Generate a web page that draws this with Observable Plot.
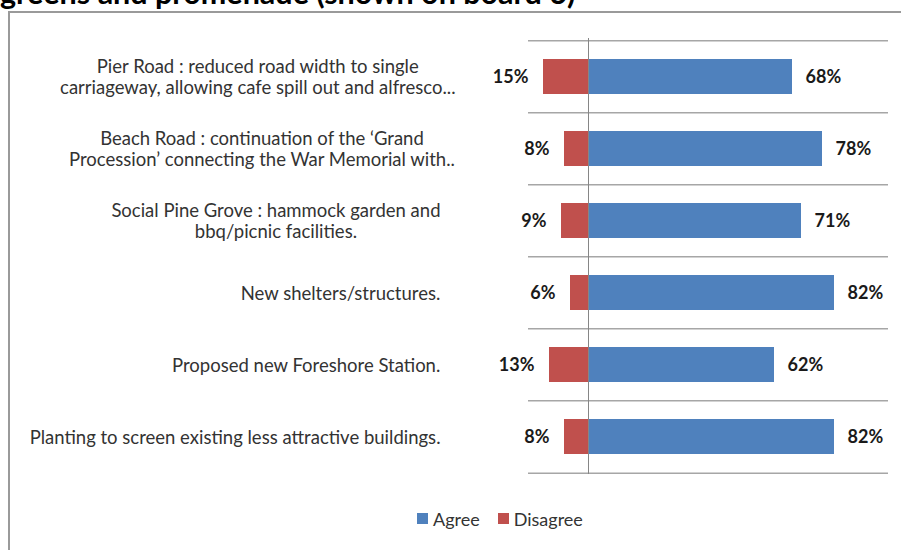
<!DOCTYPE html>
<html><head><meta charset="utf-8">
<script src="https://cdn.jsdelivr.net/npm/d3@7"></script>
<script src="https://cdn.jsdelivr.net/npm/@observablehq/plot@0.6"></script>
<style>
html,body{margin:0;padding:0;background:#fff;}
#wrap{position:relative;width:901px;height:550px;overflow:hidden;background:#fff;font-family:Lato,sans-serif;}
#title{position:absolute;left:0;top:-23px;font:bold 30.5px/30.5px Lato,sans-serif;color:#000;white-space:nowrap;}
#frame{position:absolute;left:8px;top:11px;width:893px;height:539px;border-top:2px solid #9a9a9a;border-left:2px solid #9a9a9a;box-sizing:border-box;background:transparent;}
#chart{position:absolute;left:0;top:0;}
#legend{position:absolute;top:502px;left:417px;}
</style></head><body>
<div id="wrap"><div id="title">greens and promenade (shown on board 6)</div><div id="frame"></div><div id="chart"></div><div id="legend"></div></div>
<script>
const categories = [
  "Pier Road : reduced road width to single\ncarriageway, allowing cafe spill out and alfresco...",
  "Beach Road : continuation of the \u2018Grand\nProcession\u2019 connecting the War Memorial with..",
  "Social Pine Grove : hammock garden and\nbbq/picnic facilities.",
  "New shelters/structures.",
  "Proposed new Foreshore Station.",
  "Planting to screen existing less attractive buildings."
];
const agree = [68, 78, 71, 82, 62, 82];
const disagree = [15, 8, 9, 6, 13, 8];
const seriesNames = ["Agree", "Disagree"];
const seriesColors = ["#4F81BD", "#C0504D"];

const W = 901, H = 500, mt = 38, mb = 26, ml = 528, mr = 13;
const rows = categories.map((c, i) => ({category: c, agree: agree[i], disagree: disagree[i]}));
const step = (H - mt - mb) / categories.length;
const labelFont = 18.5;
const ctx = document.createElement("canvas").getContext("2d");
ctx.font = `${labelFont}px Lato`;
function labelMark(c) {
  const lines = c.split("\n");
  const maxW = Math.max(...lines.map(l => ctx.measureText(l).width));
  const gap = /\.\.$/.test(c) ? 73 : 88;
  const center = -gap - maxW / 2;
  return Plot.text([c], {y: d => d, text: d => d, frameAnchor: "left", dx: center, textAnchor: "middle",
    lineHeight: 1.11, fontSize: labelFont, fill: "#333"});
}
const gridStyle = {stroke: "#a6a6a6", strokeWidth: 1.5};
const valStyle = {fontWeight: "bold", fontSize: 18, fill: "#1a1a1a"};
const chart = Plot.plot({
  width: W, height: H, marginTop: mt, marginBottom: mb, marginLeft: ml, marginRight: mr,
  x: {domain: [-20, 100], axis: null},
  y: {domain: categories, axis: null, paddingInner: 0.52, paddingOuter: 0.26},
  style: {fontFamily: "Lato, sans-serif", background: "transparent", overflow: "visible"},
  marks: [
    Plot.ruleY(categories, {y: d => d, dy: -step / 2, ...gridStyle}),
    Plot.ruleY(categories.slice(-1), {y: d => d, dy: step / 2, ...gridStyle}),
    Plot.barX(rows, {y: "category", x1: 0, x2: "agree", fill: seriesColors[0]}),
    Plot.barX(rows, {y: "category", x1: d => -d.disagree, x2: 0, fill: seriesColors[1]}),
    Plot.ruleX([0], {stroke: "#868686", strokeWidth: 1}),
    Plot.text(rows, {y: "category", x: "agree", text: d => d.agree + "%", dx: 13, textAnchor: "start", ...valStyle}),
    Plot.text(rows, {y: "category", x: d => -d.disagree, text: d => d.disagree + "%", dx: -15, textAnchor: "end", ...valStyle}),
    ...categories.map(labelMark)
  ]
});
document.getElementById("chart").appendChild(chart);
const legend = Plot.legend({
  color: {type: "categorical", domain: seriesNames, range: seriesColors},
  swatchSize: 11,
  style: {fontFamily: "Lato, sans-serif", fontSize: "18px", color: "#333", background: "transparent"}
});
legend.querySelectorAll("svg").forEach(s => { s.style.marginRight = "5px"; });
document.getElementById("legend").appendChild(legend);
</script>
</body></html>
